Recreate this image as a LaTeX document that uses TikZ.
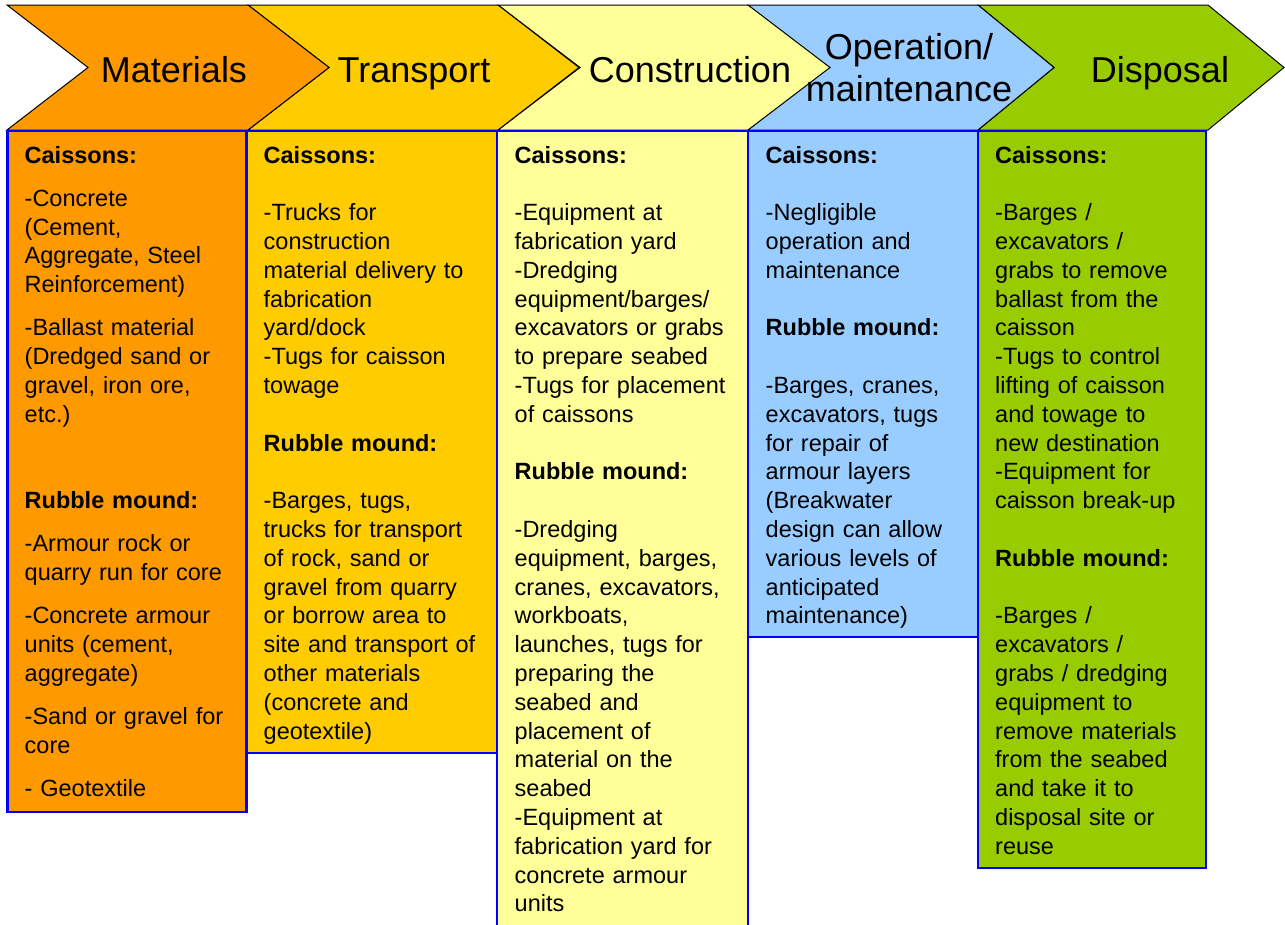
\documentclass[tikz,border=0pt]{standalone}
\usepackage{fontspec}
\setmainfont{Liberation Sans}
\definecolor{cMat}{HTML}{FF9900}
\definecolor{cTra}{HTML}{FFCC00}
\definecolor{cCon}{HTML}{FFFF99}
\definecolor{cOpe}{HTML}{99CCFF}
\definecolor{cDis}{HTML}{99CC00}
\definecolor{bord}{HTML}{0000FF}
\tikzset{
  chev/.style={draw=black, line width=1pt, line join=miter},
  colbox/.style={draw=bord, line width=2.6pt},
  head/.style={font=\fontsize{36}{42.5}\selectfont, inner sep=0pt, anchor=base, text width=260pt, align=center},
  body/.style={font=\fontsize{23.5}{28.8}\selectfont, inner sep=0pt, anchor=base west, text width=235pt, align=left},
}
\newcommand\mychev[4]{\filldraw[chev, fill=#4] (#1,5) -- (#2,5) -- ({#2+#3},67.5) -- (#2,130) -- (#1,130) -- ({#1+#3},67.5) -- cycle;}
\begin{document}
\begin{tikzpicture}[x=1pt,y=-1pt]
\useasboundingbox (0,0) rectangle (1285,924);
\clip (0,0) rectangle (1285,924);
% header chevrons, drawn right to left so each tip lies on top
\mychev{978}{1208}{76}{cDis}
\mychev{748}{978}{76}{cOpe}
\mychev{498}{748}{82}{cCon}
\mychev{248}{498}{81}{cTra}
\mychev{7}{248}{81}{cMat}
% header texts
\node[head] (hMat) at (174,82) {Materials};
\node[head] (hTra) at (414,82) {Transport};
\node[head] (hCon) at (690,82) {Construction};
\node[head] (hOpe) at (909,59) {Operation/\\maintenance};
\node[head] (hDis) at (1160,82) {Disposal};
% column boxes
\fill[cMat] (7.5,131) rectangle (246.5,812);
\fill[cTra] (246.5,131) rectangle (497,753);
\fill[cCon] (497,131) rectangle (748,940);
\fill[cOpe] (748,131) rectangle (978,637);
\fill[cDis] (978,131) rectangle (1206,868);
\draw[colbox] (7.5,131) rectangle (246.5,812);
\draw[colbox] (246.5,131) rectangle (497,753);
\draw[colbox] (497,131) rectangle (748,940);
\draw[colbox] (748,131) rectangle (978,637);
\draw[colbox] (978,131) rectangle (1206,868);
% column texts
\node[body] (tMat) at (24.5,163) {\textbf{Caissons:}\\[14.4pt]
-Concrete\\(Cement,\\Aggregate, Steel\\Reinforcement)\\[14.4pt]
-Ballast material\\(Dredged sand or\\gravel, iron ore,\\etc.)\\[57.6pt]
\textbf{Rubble mound:}\\[14.4pt]
-Armour rock or\\quarry run for core\\[14.4pt]
-Concrete armour\\units (cement,\\aggregate)\\[14.4pt]
-Sand or gravel for\\core\\[14.4pt]
- Geotextile};
\node[body] (tTra) at (263.5,163) {\textbf{Caissons:}\\[28.8pt]
-Trucks for\\construction\\material delivery to\\fabrication\\yard/dock\\-Tugs for caisson\\towage\\[28.8pt]
\textbf{Rubble mound:}\\[28.8pt]
-Barges, tugs,\\trucks for transport\\of rock, sand or\\gravel from quarry\\or borrow area to\\site and transport of\\other materials\\(concrete and\\geotextile)};
\node[body] (tCon) at (514.5,163) {\textbf{Caissons:}\\[28.8pt]
-Equipment at\\fabrication yard\\-Dredging\\equipment/barges/\\excavators or grabs\\to prepare seabed\\-Tugs for placement\\of caissons\\[28.8pt]
\textbf{Rubble mound:}\\[28.8pt]
-Dredging\\equipment, barges,\\cranes, excavators,\\workboats,\\launches, tugs for\\preparing the\\seabed and\\placement of\\material on the\\seabed\\-Equipment at\\fabrication yard for\\concrete armour\\units};
\node[body] (tOpe) at (765.5,163) {\textbf{Caissons:}\\[28.8pt]
-Negligible\\operation and\\maintenance\\[28.8pt]
\textbf{Rubble mound:}\\[28.8pt]
-Barges, cranes,\\excavators, tugs\\for repair of\\armour layers\\(Breakwater\\design can allow\\various levels of\\anticipated\\maintenance)};
\node[body] (tDis) at (995,163) {\textbf{Caissons:}\\[28.8pt]
-Barges /\\excavators /\\grabs to remove\\ballast from the\\caisson\\-Tugs to control\\lifting of caisson\\and towage to\\new destination\\-Equipment for\\caisson break-up\\[28.8pt]
\textbf{Rubble mound:}\\[28.8pt]
-Barges /\\excavators /\\grabs / dredging\\equipment to\\remove materials\\from the seabed\\and take it to\\disposal site or\\reuse};
\end{tikzpicture}
\end{document}
